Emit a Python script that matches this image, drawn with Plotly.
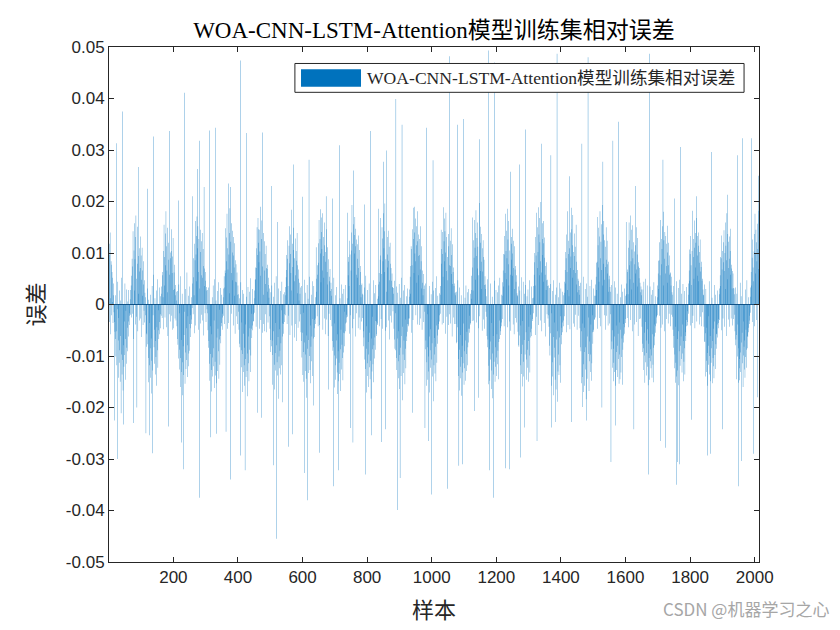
"""
WOA-CNN-LSTM-Attention training-set relative error, drawn as a MATLAB-style bar chart.
Values are in units of 1e-4 and grouped by 96-sample blocks (one block = one day of 15-min data).
"""

import plotly.graph_objects as go

# relative error per sample, units of 1e-4
day00 = [118, -34, 96, 140, 12, -58, 84, 77, -21, 63, 52, 5, -36, 41, 18, -15,
         12, -34, -53, 18, -67, -101, 35, -52, -118, -9, -95, 44, -142, -70, -26, -113,
         27, -89, -150, -61, 8, -124, -97, 52, -136, -40, -108, -167, 15, -79, -121, -33,
         -98, 41, -146, -67, -12, -115, 29, -84, -91, -45, 6, -62, -33, 28, -40, -17,
         -22, 10, -20, 28, 37, -25, 56, 89, 74, -18, 142, 60, -67, 105, 158, 27,
         88, -39, 131, 173, 50, -24, 116, 79, 151, -52, 94, 137, 21, -31, 109, 64]
day01 = [71, 132, -27, 95, 48, -63, 110, 17, 66, -40, 84, 39, -12, 47, -35, 23,
         14, -21, 23, -56, -82, -58, 31, -139, -77, 9, -104, -151, -36, 47, -118, -85,
         -142, 19, -66, -109, -173, 36, -94, -128, -21, -147, 58, -83, -115, -49, 12, -136,
         -71, -102, 27, -158, -44, -89, 49, -123, -50, -11, -67, 33, -58, -34, -19, -46,
         16, -22, 21, 35, -26, 57, 63, 14, 104, -48, 155, 92, 37, -25, 138, 76,
         181, -44, 113, 66, 149, 24, -61, 120, 172, 87, -19, 134, 58, 101, -33, 90]
day02 = [104, -22, 146, 61, -49, 93, 129, 28, -46, 62, 77, 30, -27, 38, 18, -31,
         25, 8, -42, -67, 26, -78, -105, -53, 39, -126, -88, -17, -160, 55, -104, -69,
         -131, -38, 21, -112, -176, -81, 44, -137, -59, -102, -14, -154, 30, -93, -125, -46,
         -108, 62, -141, -79, -23, -120, 17, -95, -90, -38, 35, -63, -46, -21, -29, 14,
         -38, -7, 22, 41, -19, 53, 90, 18, -56, 118, 86, 162, -41, 97, 133, 45,
         171, -28, 109, 152, 63, -49, 127, 88, 194, 31, -37, 145, 102, 57, -20, 123]
day03 = [139, 52, -31, 108, 75, -60, 121, 36, 70, -17, 46, 63, -34, 27, 34, -9,
         28, -17, -50, 33, -84, -71, -115, 20, -148, -96, -42, 61, -127, -169, -58, 14,
         -103, -140, 37, -85, -120, -31, -162, 49, -111, -76, -138, 8, -99, -153, -64, 26,
         -129, -47, -91, 43, -144, -68, -10, -117, 32, -61, -75, -36, 19, -42, -49, -18,
         -25, 14, -22, 31, 55, 33, -38, 66, 148, 61, -25, 130, 84, 176, -47, 109,
         68, 155, -36, 97, 139, 22, 187, 80, -53, 122, 61, 158, -18, 101, 143, 47]
day04 = [95, 131, -41, 72, 17, 119, -57, 86, 44, 78, -23, 43, 62, -38, 19, 37,
         -14, 20, -49, -76, 12, -83, -61, -147, 43, -89, -122, -35, -170, 28, -96, -131,
         -57, 21, -118, -84, -158, 46, -106, -39, -141, -73, 15, -129, -95, -178, 34, -62,
         -114, -149, 25, -88, -46, -131, 51, -99, -47, -18, -65, 30, -41, -50, -19, -32,
         -33, 12, 27, -16, 48, 72, 49, -43, 109, 71, 150, -34, 96, 168, 28, 120,
         82, -47, 145, 103, 190, 56, -30, 127, 91, 163, -55, 112, 74, 139, 19, -38]
day05 = [66, 123, -52, 98, 40, -19, 114, 71, -54, 69, 25, 77, -35, 38, 52, 13,
         -23, 31, -47, -69, -92, 24, -81, -124, 37, -156, -70, -98, 15, -133, -52, -117,
         -165, 42, -94, -128, -36, 55, -147, -79, -112, 9, -138, -63, -183, 31, -101, -124,
         -48, -90, 26, -136, -75, -11, -118, 44, -62, -81, -37, 20, -57, -38, 24, -34,
         -19, 18, 34, -21, 53, 67, 96, -38, 89, 125, 36, 171, -22, 114, 80, 152,
         -59, 98, 136, 61, 184, 27, -41, 118, 160, 73, 106, -26, 149, 90, 45, -64]
day06 = [128, 57, -38, 104, 85, -71, 139, 22, 76, -45, 50, 68, 8, -33, 42, 21,
         33, -19, -54, 36, -71, -103, -55, 27, -137, -92, -16, -150, 48, -108, -74, -129,
         23, -97, -144, -60, -181, 38, -115, -86, 11, -133, -69, -157, 54, -100, -127, -41,
         -153, -82, 19, -110, -62, 45, -139, -28, -66, -81, 36, -46, -63, -30, 14, -38,
         -27, -11, 25, 50, -23, 76, 58, -42, 119, 81, 164, 29, -40, 127, 99, 185,
         43, -36, 141, 108, 66, 177, -49, 94, 131, 52, 159, -27, 115, 83, -58, 102]
day07 = [87, 146, -29, 63, 111, 39, -61, 97, 88, -18, 54, 45, 69, -30, 26, 42,
         17, 30, -42, -71, 29, -90, -83, -124, 52, -99, -161, -37, 18, -118, -146, -70,
         -105, 34, -132, -174, -58, -91, 47, -149, -113, -26, -135, 12, -87, -168, -49, 39,
         -126, -78, -104, 21, -147, -55, -93, 30, -81, -14, -56, 38, -52, -37, -25, -35,
         -20, 12, 31, -24, 57, 83, 92, 36, -57, 124, 97, 179, -21, 66, 140, 105,
         193, -46, 118, 74, 156, 31, -28, 135, 99, 170, -62, 113, 147, 58, -17, 126]
day08 = [52, 117, 89, -46, 134, 71, -25, 106, 38, -49, 63, 75, 14, -33, 38, 41,
         21, -26, 19, -52, -81, -64, 33, -150, -107, -23, -125, 56, -86, -171, -42, -114,
         -139, 28, -73, -160, -97, 41, -122, -55, -145, 16, -109, -183, -66, 35, -130, -87,
         -24, -116, 47, -151, -79, -105, 22, -64, -88, -32, 38, -58, -61, -33, 11, -37,
         -40, 16, -25, 39, 61, 44, -42, 87, 95, 168, -28, 112, 59, 150, -47, 128,
         84, 177, -33, 109, 142, 63, 196, -51, 120, 88, 158, 25, -44, 131, 97, 72]
day09 = [143, -31, 85, 112, 47, -68, 120, 79, -22, 71, 46, -35, 60, 34, 33, -13,
         32, 21, -47, -68, 46, -86, -89, -17, -152, -104, 35, -127, -66, -175, 23, -110,
         -143, -52, 40, -98, -164, -121, 13, -84, -139, -61, 52, -115, -186, -43, -97, 27,
         -133, -70, -108, 38, -155, -86, -29, -124, 16, -62, -71, -38, 31, -53, -39, -27,
         -42, 15, 29, -27, 54, 75, 21, 113, -55, 108, 76, 146, 39, -30, 127, 188,
         61, 140, -48, 99, 167, 84, -21, 152, 115, 42, 181, -39, 123, 94, 57, 136]
day10 = [96, -40, 127, 68, 152, -27, 84, 113, 31, -49, 66, 42, 18, 59, -34, 30,
         37, -14, -55, 41, -87, -70, -158, 28, -112, -83, -19, -146, 49, -101, -130, -62,
         -171, 36, -89, -123, -48, 20, -159, -107, -75, 44, -140, -92, -188, 27, -118, -65,
         -97, -134, 32, -82, -149, -41, 55, -113, -60, -76, 17, -48, -38, -49, 22, -33,
         -21, 19, 36, -18, 62, 79, 108, -39, 98, 141, 54, 189, -36, 123, 84, 167,
         142, -57, 101, 178, 65, 131, -24, 92, 160, 47, -40, 137, 113, 76, 150, -19]
day11 = [124, 75, -37, 148, 59, 96, -62, 117, 40, 63, -25, 72, 36, -38, 41, 22,
         24, 18, -38, -75, 25, -73, -151, -44, 47, -139, -106, -30, -167, 33, -88, -121,
         -59, -143, 18, -102, -177, -80, 45, -132, -114, -37, 29, -156, -91, -124, 13, -70,
         -148, 37, -96, -129, -53, 24, -118, -83, -74, 30, -47, -55, -22, -47, -36, 21,
         -39, 11, 28, 56, -32, 77, 72, 27, -31, 125, 91, 164, -57, 110, 139, 48,
         183, 94, -35, 129, 70, 159, 112, -46, 140, 57, 197, 86, -23, 120, 65, 151]
day12 = [83, 30, 137, -51, 109, 64, 125, -29, 92, 87, 38, -47, 55, 30, 39, -14,
         16, -24, -61, 49, -83, -68, -155, 22, -119, -87, -16, -148, 41, -107, -72, -164,
         -36, -128, 15, -95, -182, -61, 34, -136, -111, -49, 46, -150, -83, -121, 28, -103,
         -139, -58, 24, -116, -90, -145, 37, -73, -67, -31, 52, -59, -46, -52, 19, -35,
         -42, 17, -28, 43, 66, 35, 98, -42, 97, 133, 61, 176, -26, 104, 143, 49,
         90, 186, -44, 126, 78, 162, 37, -33, 141, 105, 172, 58, -51, 118, 87, 131]
day13 = [147, 56, 99, -39, 124, 71, -58, 113, 30, 68, 75, -26, 44, 57, -35, 22,
         16, 18, -53, -79, 35, -82, -60, -147, 27, -118, -174, -41, -96, 53, -135, -78,
         -159, -32, 44, -111, -140, -69, 21, -185, -97, -128, 38, -54, -146, -107, 16, -88,
         -123, 29, -71, -150, -43, -99, 47, -132, -54, -20, -64, 35, -47, -61, -32, 12,
         -28, 13, 36, -17, 58, 82, 100, 37, -59, 131, 95, 178, -24, 112, 150, 71,
         102, 189, -40, 136, 57, 168, 121, -31, 84, 199, 143, 62, -52, 127, 96, 158]
day14 = [119, 44, 162, -36, 91, 130, 58, -62, 75, 28, 82, 47, -19, 48, 36, -27,
         37, -21, -43, 32, -80, -99, -56, 40, -131, -95, -17, -158, 26, -112, -140, -63,
         -176, 47, -103, -84, -35, -146, 19, -122, -165, -68, 33, -109, -189, -52, -130, 14,
         -97, -137, 42, -64, -118, -23, -152, 31, -59, -77, -45, 25, -54, -35, -42, 18,
         -31, 23, 44, -23, 67, 41, 102, 90, -54, 136, 63, 181, 28, -40, 124, 98,
         16, 109, 163, -48, 71, 140, 93, 188, -25, 146, 115, 52, 174, -37, 102, 67]
day15 = [94, 138, -43, 112, 61, -20, 155, 39, 83, -49, 67, 24, 50, 46, -22, 28,
         36, 19, -46, -83, 42, -91, -52, -153, 19, -104, -141, -37, 54, -116, -170, -92,
         -158, -45, 30, -126, -83, -184, 41, -100, -144, -62, 15, -137, -96, -25, -168, -110,
         -72, 36, -131, -97, -39, -148, 48, -114, -54, -21, -76, 31, -49, -53, -30, 17,
         -28, 17, 39, -25, 54, 81, 28, 83, 170, -47, 115, 72, 149, 44, -26, 132,
         181, 90, -42, 122, 67, 156, 104, 37, 193, -55, 136, 79, 162, 48, -21, 125]
day16 = [73, 112, -49, 150, 87, -22, 124, 60, 78, -41, 83, 25, 49, 56, -37, 34,
         25, -19, -59, 38, -87, -72, -123, -50, 27, -149, -86, -113, 45, -131, -62, -104,
         -158, 33, -41, -92, -127, 21, -80, -141, -57, -106, 48, -154, -35, -97, -145, 14,
         -49, -132, 39, -102, -66, -156, 25, -88, -74, -38, -60, 31, -57, -44, 17, -28,
         -36, -14, 20, 41, -26, 68, 63, 20, 110, -44, 159, 76, 125, 49, 173, -30,
         84, 29, 145, 107, -52, 154, 90, 121, 42, 166, -39, 103, 78, 137, 60, 115]
day17 = [150, 68, -34, 97, 35, 129, -61, 82, 74, 51, -28, 71, 42, 24, -27, 35,
         29, 18, -43, -76, -92, 29, -85, -127, 44, -55, -99, -152, -34, 50, -112, -70,
         -138, -94, 37, -121, -48, -157, -76, 23, -104, -146, -41, 35, -110, -87, -124, 19,
         -99, -142, 28, -58, -117, -84, -151, 43, -62, -79, -39, 16, -55, -42, -23, -37,
         -25, 14, 37, -21, 60, 85, 30, 86, -22, 121, 57, 99, 164, -45, 127, 78,
         108, 152, -39, 93, 180, 37, 125, -52, 89, 141, 60, 104, 133, -28, 75, 118]
day18 = [42, 101, 153, -37, 76, 120, -18, 58, 95, 60, -42, 62, 37, 54, -20, 24,
         19, -24, -49, 36, -84, -61, -124, 27, -97, -152, -43, -113, -75, 45, -140, -67,
         -102, -128, 32, -52, -157, -91, -33, 48, -119, -80, -145, -62, 21, -106, -132, -39,
         -95, 40, -149, -71, -111, -85, 26, -136, -54, -61, -71, 34, -42, -30, -41, -13,
         -34, 19, 41, -18, 66, 46, 107, 98, -41, 133, 76, 38, 147, 104, -36, 182,
         -22, 92, 127, 50, 163, 110, -46, 72, 139, 120, 28, 168, -33, 95, 56, 133]
day19 = [114, 45, 140, 81, -39, 102, 126, -24, 64, 73, 83, -42, 46, 50, -15, 29,
         19, 18, -43, -72, 39, -73, -140, -56, 30, -109, -131, -45, 17, -94, -158, -23,
         -117, -80, 45, -136, -100, -61, -149, 29, -113, -85, -127, 13, -71, -153, -104, -47,
         -120, -143, 38, -33, -98, -125, 19, -77, -86, -58, -57, -64, 27, -39, -46, -28,
         -36, 20, 31, -30, 57, 92, 36, 90, -50, 134, 68, 104, 173, -27, 121, 82,
         144, 65, -43, 100, 159, 30, 114, -61, 86, 177, 49, 108, 137, -29, 71, 122]
day20 = [89, 132, -43, 104, 58, 147, -27, 70, 77, 31, 65, -41, 60, 32, -28, 31,
         20, -20, -52, -79, 33, -68, -145, -59, 21, -117, -101, -39, -152, 26, -85, -124,
         -106, -147, 42, -93, -131, 16, -74, -140, -55, -114, 37, -160, -99, -33, -82, -126,
         -70, -142, 29, -102, -49, -123, -88, 47, -85, -61, -63, 14, -54, -45, -38, -22,
         -31, 15, 33, -16, 63, 37, 99, 91, -34, 126, 72, 164, 45, 103, 137, -42,
         176, 60, 98, 145, -30, 121, 84, 157, 49, 108, 133, 69, 182]

# isolated tall bars (sample number, value in 1e-4)
pos_spike_idx = [23, 42, 92, 120, 138, 188, 216, 234, 259, 274,
                 281, 295, 312, 330, 370, 376, 407, 426, 463, 476,
                 504, 522, 572, 600, 620, 642, 658, 673, 693, 714,
                 739, 758, 792, 810, 835, 851, 859, 889, 908, 947,
                 984, 1004, 1029, 1055, 1079, 1099, 1126, 1148, 1176, 1194,
                 1243, 1272, 1290, 1339, 1369, 1388, 1427, 1465, 1484, 1530,
                 1561, 1579, 1602, 1630, 1675, 1716, 1752, 1771, 1819, 1867,
                 1916, 1946, 1963, 1991, 2011]
pos_spike_val = [313, 375, 267, 225, 326, 337, 202, 411, 210, 263,
                 318, 228, 338, 343, 235, 228, 474, 333, 146, 334,
                 230, 160, 272, 209, 281, 111, 169, 210, 206, 309,
                 178, 260, 194, 337, 186, 277, 299, 399, 349, 190,
                 343, 280, 145, 482, 349, 360, 169, 321, 493, 470,
                 258, 272, 340, 312, 290, 487, 249, 312, 480, 277,
                 318, 355, 160, 230, 487, 281, 206, 306, 210, 296,
                 213, 290, 323, 323, 250]
neg_spike_idx = [17, 27, 38, 45, 76, 87, 115, 126, 135, 185,
                 226, 231, 280, 316, 333, 363, 377, 408, 422, 460,
                 473, 510, 519, 538, 556, 569, 606, 615, 634, 652,
                 680, 696, 711, 748, 756, 794, 814, 844, 857, 894,
                 902, 941, 979, 989, 999, 1049, 1084, 1095, 1133, 1145,
                 1179, 1191, 1229, 1241, 1275, 1288, 1326, 1370, 1384, 1433,
                 1466, 1480, 1527, 1555, 1568, 1626, 1672, 1708, 1724, 1757,
                 1761, 1767, 1805, 1853, 1864, 1901, 1950, 1960, 1996, 2009]
neg_spike_val = [-225, -300, -211, -233, -230, -200, -250, -254, -289, -237,
                 -268, -320, -375, -258, -251, -247, -340, -293, -322, -210,
                 -220, -312, -455, -190, -276, -252, -327, -380, -196, -288,
                 -165, -353, -322, -240, -268, -330, -254, -267, -242, -399,
                 -337, -210, -240, -265, -369, -358, -313, -310, -207, -181,
                 -322, -375, -318, -320, -297, -239, -265, -239, -228, -228,
                 -199, -225, -200, -306, -235, -242, -330, -265, -278, -350,
                 -306, -310, -224, -293, -290, -242, -353, -304, -290, -180]

x_tick_vals = [200, 400, 600, 800, 1000, 1200, 1400, 1600, 1800, 2000]
y_tick_vals = [-0.05, -0.04, -0.03, -0.02, -0.01, 0, 0.01, 0.02, 0.03, 0.04, 0.05]
y_tick_text = ["-0.05", "-0.04", "-0.03", "-0.02", "-0.01", "0",
               "0.01", "0.02", "0.03", "0.04", "0.05"]

series_name = "WOA-CNN-LSTM-Attention模型训练集相对误差"


def build_errors():
    days = [day00, day01, day02, day03, day04, day05, day06, day07, day08, day09, day10,
            day11, day12, day13, day14, day15, day16, day17, day18, day19, day20]
    err = [v for d in days for v in d]
    for i, v in zip(pos_spike_idx, pos_spike_val):
        if i <= len(err):
            err[i - 1] = v
    for i, v in zip(neg_spike_idx, neg_spike_val):
        if i <= len(err):
            err[i - 1] = v
    return [v / 10000 for v in err]


errors = build_errors()
samples = list(range(1, len(errors) + 1))

MATLAB_BLUE = "#0072BD"
AXIS_COLOR = "#262626"
SERIF = "Liberation Serif, Times New Roman, Noto Sans CJK SC"
SANS = "Liberation Sans, Arial, Helvetica"

fig = go.Figure(go.Bar(
    x=samples,
    y=errors,
    width=0.98,
    marker=dict(color=MATLAB_BLUE, line=dict(width=0)),
    name=series_name,
    showlegend=False,
))

axis_common = dict(
    showline=True, linecolor=AXIS_COLOR, linewidth=1, mirror="ticks",
    ticks="inside", ticklen=5, tickcolor=AXIS_COLOR, tickwidth=1,
    showgrid=False, automargin=False,
    tickfont=dict(family=SANS, size=17, color=AXIS_COLOR),
)

# the page body has an 8px margin, so the margins are shifted to keep the axes where MATLAB put them
fig.update_layout(
    width=840, height=630,
    margin=dict(l=101, r=89, t=39, b=76),
    paper_bgcolor="white", plot_bgcolor="white",
    bargap=0.02,
    title=dict(text=series_name, x=0.5, xref="paper", xanchor="center",
               y=1 - 22 / 630, yref="container", yanchor="middle",
               font=dict(family=SERIF, size=23, color="#000000")),
    xaxis=dict(axis_common, range=[0.6, 2013.4], tickvals=x_tick_vals,
               ticktext=[str(v) for v in x_tick_vals], zeroline=False,
               title=dict(text="样本", standoff=16,
                          font=dict(family=SERIF, size=22, color=AXIS_COLOR))),
    yaxis=dict(axis_common, range=[-0.05, 0.05], tickvals=y_tick_vals,
               ticktext=y_tick_text,
               zeroline=True, zerolinecolor="#1d3f63", zerolinewidth=1,
               title=dict(text="误差", standoff=15,
                          font=dict(family=SERIF, size=22, color=AXIS_COLOR))),
)

# MATLAB-style legend box with a wide colour patch
fig.add_shape(type="rect", xref="paper", yref="paper", x0=0.286, x1=0.977, y0=0.912, y1=0.968,
              fillcolor="white", line=dict(color=AXIS_COLOR, width=1), layer="above")
fig.add_shape(type="rect", xref="paper", yref="paper", x0=0.2954, x1=0.3877, y0=0.923, y1=0.957,
              fillcolor=MATLAB_BLUE, line=dict(width=0), layer="above")
fig.add_annotation(text=series_name, xref="paper", yref="paper", x=0.394, y=0.940,
                   xanchor="left", yanchor="middle", showarrow=False,
                   font=dict(family=SERIF, size=17.6, color=AXIS_COLOR))

# watermark from the source image
fig.add_annotation(text="CSDN @机器学习之心", xref="paper", yref="paper",
                   x=(831 - 109) / 650, y=(562 - 608) / 515, xanchor="right", yanchor="middle",
                   showarrow=False, font=dict(family="Noto Sans CJK SC", size=17, color="#a6a6a6"))

# staticPlot keeps the sub-pixel bar widths (no rounding to whole pixels)
fig.write_html("out.html", config={"staticPlot": True})
